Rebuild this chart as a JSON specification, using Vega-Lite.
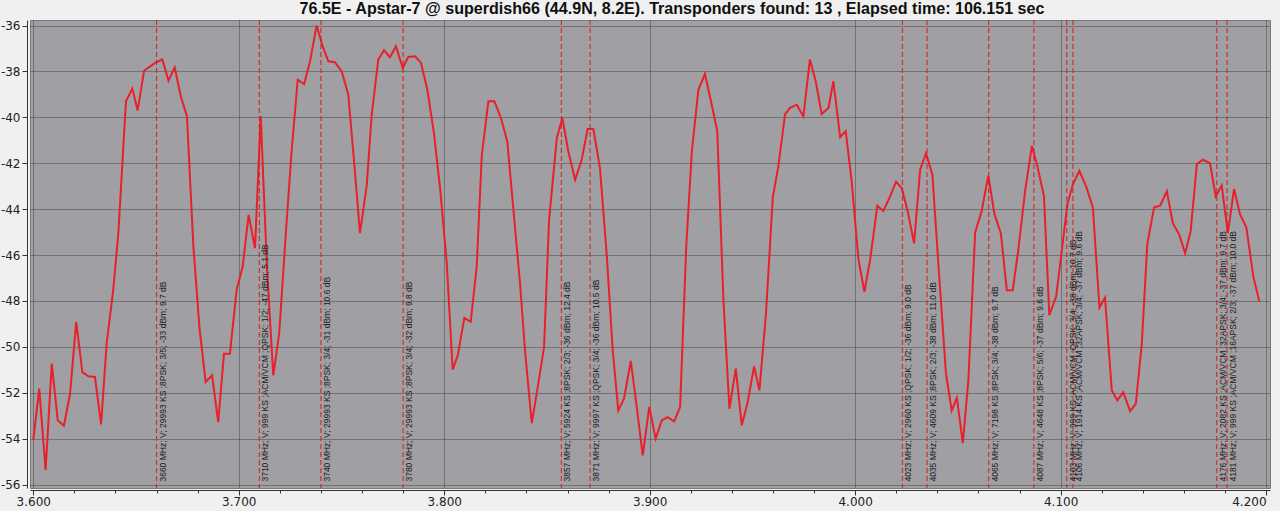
{
  "$schema": "https://vega.github.io/schema/vega-lite/v6.json",
  "width": 1240,
  "height": 468,
  "autosize": "none",
  "padding": {"left": 30, "top": 20, "right": 10, "bottom": 23},
  "background": "#f0f0f0",
  "title": {"text": "76.5E - Apstar-7 @ superdish66 (44.9N, 8.2E). Transponders found: 13 , Elapsed time: 106.151 sec", "font": "Liberation Sans", "fontSize": 16.1, "fontWeight": "bold", "color": "#111111", "offset": 2, "anchor": "middle", "dx": 22},
  "config": {"view": {"fill": "#a0a0a4", "stroke": "#7a7a7a"}},
  "datasets": {
    "spectrum": [
      {"f": 3.6000, "v": -54.05}, {"f": 3.6029, "v": -51.82}, {"f": 3.6060, "v": -55.36}, {"f": 3.6090, "v": -50.73},
      {"f": 3.6119, "v": -53.2}, {"f": 3.6149, "v": -53.44}, {"f": 3.6179, "v": -52.04}, {"f": 3.6209, "v": -48.91},
      {"f": 3.6239, "v": -51.1}, {"f": 3.6268, "v": -51.28}, {"f": 3.6300, "v": -51.31}, {"f": 3.6330, "v": -53.38},
      {"f": 3.6357, "v": -49.86}, {"f": 3.6389, "v": -47.53}, {"f": 3.6414, "v": -45.05}, {"f": 3.6451, "v": -39.3},
      {"f": 3.6482, "v": -38.75}, {"f": 3.6508, "v": -39.7}, {"f": 3.6539, "v": -37.97}, {"f": 3.6598, "v": -37.6},
      {"f": 3.6628, "v": -37.48}, {"f": 3.6658, "v": -38.4}, {"f": 3.6688, "v": -37.82}, {"f": 3.6718, "v": -39.09},
      {"f": 3.6748, "v": -39.96}, {"f": 3.6779, "v": -45.6}, {"f": 3.6809, "v": -49.2}, {"f": 3.6839, "v": -51.53},
      {"f": 3.6870, "v": -51.24}, {"f": 3.6900, "v": -53.28}, {"f": 3.6928, "v": -50.3}, {"f": 3.6957, "v": -50.3},
      {"f": 3.6990, "v": -47.5}, {"f": 3.7019, "v": -46.5}, {"f": 3.7048, "v": -44.25}, {"f": 3.7079, "v": -45.7},
      {"f": 3.7107, "v": -39.96}, {"f": 3.7137, "v": -46.5}, {"f": 3.7168, "v": -51.24}, {"f": 3.7197, "v": -49.4},
      {"f": 3.7228, "v": -45.2}, {"f": 3.7257, "v": -41.5}, {"f": 3.7287, "v": -38.36}, {"f": 3.7318, "v": -38.55},
      {"f": 3.7347, "v": -37.56}, {"f": 3.7379, "v": -36.0}, {"f": 3.7408, "v": -36.9}, {"f": 3.7436, "v": -37.56},
      {"f": 3.7468, "v": -37.6}, {"f": 3.7501, "v": -38.0}, {"f": 3.7533, "v": -39.0}, {"f": 3.7562, "v": -42.0},
      {"f": 3.7590, "v": -45.05}, {"f": 3.7623, "v": -42.95}, {"f": 3.7647, "v": -39.9}, {"f": 3.7679, "v": -37.48},
      {"f": 3.7707, "v": -37.08}, {"f": 3.7736, "v": -37.38}, {"f": 3.7765, "v": -36.9}, {"f": 3.7798, "v": -37.85},
      {"f": 3.7825, "v": -37.37}, {"f": 3.7858, "v": -37.34}, {"f": 3.7887, "v": -37.63}, {"f": 3.7918, "v": -38.8},
      {"f": 3.7950, "v": -40.7}, {"f": 3.7980, "v": -43.1}, {"f": 3.8012, "v": -46.3}, {"f": 3.8041, "v": -50.99},
      {"f": 3.8066, "v": -50.37}, {"f": 3.8098, "v": -48.74}, {"f": 3.8129, "v": -48.91}, {"f": 3.8158, "v": -46.5},
      {"f": 3.8183, "v": -41.63}, {"f": 3.8215, "v": -39.3}, {"f": 3.8244, "v": -39.3}, {"f": 3.8276, "v": -40.03},
      {"f": 3.8307, "v": -41.05}, {"f": 3.8336, "v": -43.96}, {"f": 3.8369, "v": -47.23}, {"f": 3.8393, "v": -50.15},
      {"f": 3.8426, "v": -53.32}, {"f": 3.8458, "v": -51.6}, {"f": 3.8486, "v": -50.0}, {"f": 3.8510, "v": -44.5},
      {"f": 3.8548, "v": -40.9}, {"f": 3.8575, "v": -40.03}, {"f": 3.8604, "v": -41.49}, {"f": 3.8637, "v": -42.72},
      {"f": 3.8669, "v": -41.85}, {"f": 3.8698, "v": -40.51}, {"f": 3.8726, "v": -40.51}, {"f": 3.8758, "v": -42.22},
      {"f": 3.8791, "v": -46.0}, {"f": 3.8820, "v": -50.15}, {"f": 3.8847, "v": -52.77}, {"f": 3.8875, "v": -52.26},
      {"f": 3.8908, "v": -50.61}, {"f": 3.8937, "v": -52.62}, {"f": 3.8966, "v": -54.73}, {"f": 3.8998, "v": -52.62},
      {"f": 3.9029, "v": -54.0}, {"f": 3.9059, "v": -53.2}, {"f": 3.9088, "v": -53.06}, {"f": 3.9119, "v": -53.25},
      {"f": 3.9148, "v": -52.62}, {"f": 3.9178, "v": -45.6}, {"f": 3.9205, "v": -41.49}, {"f": 3.9237, "v": -38.8},
      {"f": 3.9269, "v": -38.11}, {"f": 3.9299, "v": -39.33}, {"f": 3.9329, "v": -40.6}, {"f": 3.9359, "v": -48.0},
      {"f": 3.9388, "v": -52.7}, {"f": 3.9419, "v": -50.95}, {"f": 3.9448, "v": -53.42}, {"f": 3.9477, "v": -52.4},
      {"f": 3.9508, "v": -50.85}, {"f": 3.9534, "v": -51.9}, {"f": 3.9566, "v": -48.55}, {"f": 3.9599, "v": -43.5},
      {"f": 3.9626, "v": -42.14}, {"f": 3.9659, "v": -39.86}, {"f": 3.9683, "v": -39.59}, {"f": 3.9716, "v": -39.45},
      {"f": 3.9748, "v": -39.96}, {"f": 3.9780, "v": -37.48}, {"f": 3.9808, "v": -38.43}, {"f": 3.9837, "v": -39.86},
      {"f": 3.9870, "v": -39.59}, {"f": 3.9894, "v": -38.43}, {"f": 3.9927, "v": -40.87}, {"f": 3.9954, "v": -40.6},
      {"f": 3.9983, "v": -42.79}, {"f": 4.0016, "v": -46.2}, {"f": 4.0045, "v": -47.6}, {"f": 4.0073, "v": -46.2},
      {"f": 4.0108, "v": -43.85}, {"f": 4.0137, "v": -44.08}, {"f": 4.0170, "v": -43.45}, {"f": 4.0199, "v": -42.8},
      {"f": 4.0227, "v": -43.09}, {"f": 4.0256, "v": -44.11}, {"f": 4.0287, "v": -45.49}, {"f": 4.0316, "v": -42.29},
      {"f": 4.0345, "v": -41.56}, {"f": 4.0376, "v": -42.51}, {"f": 4.0408, "v": -46.8}, {"f": 4.0442, "v": -51.17},
      {"f": 4.0470, "v": -52.77}, {"f": 4.0495, "v": -52.22}, {"f": 4.0524, "v": -54.19}, {"f": 4.0551, "v": -51.46},
      {"f": 4.0584, "v": -45.02}, {"f": 4.0616, "v": -44.07}, {"f": 4.0648, "v": -42.54}, {"f": 4.0678, "v": -44.22},
      {"f": 4.0709, "v": -45.05}, {"f": 4.0738, "v": -47.53}, {"f": 4.0767, "v": -47.53}, {"f": 4.0794, "v": -45.78},
      {"f": 4.0827, "v": -43.22}, {"f": 4.0860, "v": -41.24}, {"f": 4.0889, "v": -42.22}, {"f": 4.0919, "v": -43.45},
      {"f": 4.0945, "v": -48.62}, {"f": 4.0978, "v": -47.82}, {"f": 4.1006, "v": -45.78}, {"f": 4.1033, "v": -43.78},
      {"f": 4.1059, "v": -42.94}, {"f": 4.1091, "v": -42.33}, {"f": 4.1124, "v": -43.01}, {"f": 4.1157, "v": -43.93},
      {"f": 4.1189, "v": -48.29}, {"f": 4.1216, "v": -47.86}, {"f": 4.1249, "v": -51.9}, {"f": 4.1276, "v": -52.33},
      {"f": 4.1305, "v": -51.97}, {"f": 4.1338, "v": -52.8}, {"f": 4.1366, "v": -52.48}, {"f": 4.1395, "v": -49.86},
      {"f": 4.1422, "v": -45.5}, {"f": 4.1455, "v": -43.92}, {"f": 4.1484, "v": -43.85}, {"f": 4.1517, "v": -43.22},
      {"f": 4.1546, "v": -44.61}, {"f": 4.1578, "v": -45.12}, {"f": 4.1606, "v": -45.93}, {"f": 4.1633, "v": -44.95},
      {"f": 4.1663, "v": -42.04}, {"f": 4.1692, "v": -41.85}, {"f": 4.1727, "v": -42.0}, {"f": 4.1755, "v": -43.45},
      {"f": 4.1784, "v": -42.97}, {"f": 4.1814, "v": -45.05}, {"f": 4.1844, "v": -43.12}, {"f": 4.1873, "v": -44.22},
      {"f": 4.1904, "v": -44.8}, {"f": 4.1938, "v": -46.94}, {"f": 4.1967, "v": -48.03}
    ],
    "tp": [
      {"tf": 3.660, "label": "3660 MHz; V; 29993 KS ;8PSK; 3/5; -33 dBm; 9.7 dB"},
      {"tf": 3.710, "label": "3710 MHz; V; 999 KS ;ACM/VCM ;QPSK; 1/2; -47 dBm; 5.1 dB"},
      {"tf": 3.740, "label": "3740 MHz; V; 29993 KS ;8PSK; 3/4; -31 dBm; 10.6 dB"},
      {"tf": 3.780, "label": "3780 MHz; V; 29993 KS ;8PSK; 3/4; -32 dBm; 9.8 dB"},
      {"tf": 3.857, "label": "3857 MHz; V; 5924 KS ;8PSK; 2/3; -36 dBm; 12.4 dB"},
      {"tf": 3.871, "label": "3871 MHz; V; 9997 KS ;QPSK; 3/4; -36 dBm; 10.5 dB"},
      {"tf": 4.023, "label": "4023 MHz; V; 2960 KS ;QPSK; 1/2; -36 dBm; 9.0 dB"},
      {"tf": 4.035, "label": "4035 MHz; V; 4609 KS ;8PSK; 2/3; -38 dBm; 11.0 dB"},
      {"tf": 4.065, "label": "4065 MHz; V; 7198 KS ;8PSK; 3/4; -38 dBm; 9.7 dB"},
      {"tf": 4.087, "label": "4087 MHz; V; 4648 KS ;8PSK; 5/6; -37 dBm; 9.6 dB"},
      {"tf": 4.103, "label": "4103 MHz; V; 999 KS ;ACM/VCM ;QPSK; 3/4; -38 dBm; 10.7 dB"},
      {"tf": 4.106, "label": "4106 MHz; V; 1914 KS ;ACM/VCM ;32APSK; 3/4; -37 dBm; 9.6 dB"},
      {"tf": 4.176, "label": "4176 MHz; V; 2082 KS ;ACM/VCM ;32APSK; 3/4; -37 dBm; 9.7 dB"},
      {"tf": 4.181, "label": "4181 MHz; V; 999 KS ;ACM/VCM ;16APSK; 2/3; -37 dBm; 10.0 dB"}
    ]
  },
  "layer": [
    {
      "data": {"name": "spectrum"},
      "mark": {"type": "line", "color": "#e8202a", "strokeWidth": 2},
      "encoding": {
        "x": {
          "field": "f", "type": "quantitative",
          "scale": {"domain": [3.5984, 4.2019], "nice": false, "zero": false},
          "axis": {
            "title": null,
            "values": [3.6, 3.61, 3.62, 3.63, 3.64, 3.65, 3.66, 3.67, 3.68, 3.69, 3.7, 3.71, 3.72, 3.73, 3.74, 3.75, 3.76, 3.77, 3.78, 3.79, 3.8, 3.81, 3.82, 3.83, 3.84, 3.85, 3.86, 3.87, 3.88, 3.89, 3.9, 3.91, 3.92, 3.93, 3.94, 3.95, 3.96, 3.97, 3.98, 3.99, 4.0, 4.01, 4.02, 4.03, 4.04, 4.05, 4.06, 4.07, 4.08, 4.09, 4.1, 4.11, 4.12, 4.13, 4.14, 4.15, 4.16, 4.17, 4.18, 4.19, 4.2],
            "labelExpr": "round(datum.value*1000) % 50 == 0 ? format(datum.value, '.3f') : ''",
            "labelAlign": {"condition": {"test": "datum.value > 4.19", "value": "right"}, "value": "center"},
            "tickSize": {"condition": {"test": "round(datum.value*1000) % 50 == 0", "value": 5}, "value": 3},
            "grid": true,
            "gridOpacity": {"condition": {"test": "round(datum.value*1000) % 50 == 0", "value": 1}, "value": 0},
            "gridColor": "#454545", "gridDash": [1, 1], "gridWidth": 1,
            "offset": 2,
            "domainColor": "#333333", "tickColor": "#333333",
            "labelFont": "DejaVu Sans", "labelFontSize": 12, "labelColor": "#222222", "labelPadding": 1,
            "labelFlush": false, "labelOverlap": false
          }
        },
        "y": {
          "field": "v", "type": "quantitative",
          "scale": {"domain": [-56.15, -35.76], "nice": false, "zero": false},
          "axis": {
            "title": null,
            "values": [-56, -54, -52, -50, -48, -46, -44, -42, -40, -38, -36],
            "labelExpr": "datum.value + ''",
            "grid": true, "gridColor": "#454545", "gridDash": [1, 1], "gridWidth": 1,
            "offset": 3, "tickSize": 5,
            "domainColor": "#333333", "tickColor": "#333333",
            "labelFont": "DejaVu Sans", "labelFontSize": 12, "labelColor": "#222222", "labelPadding": 2
          }
        }
      }
    },
    {
      "data": {"name": "tp"},
      "mark": {"type": "rule", "color": "#d41c1c", "strokeDash": [5, 3], "strokeWidth": 1},
      "encoding": {"x": {"field": "tf", "type": "quantitative"}}
    },
    {
      "data": {"name": "tp"},
      "mark": {"type": "text", "angle": 270, "align": "left", "baseline": "top", "dx": 3, "dy": 2, "font": "Liberation Sans", "fontSize": 8.5, "color": "#1a1a1a"},
      "encoding": {
        "x": {"field": "tf", "type": "quantitative"},
        "y": {"datum": -56},
        "text": {"field": "label"}
      }
    }
  ]
}
